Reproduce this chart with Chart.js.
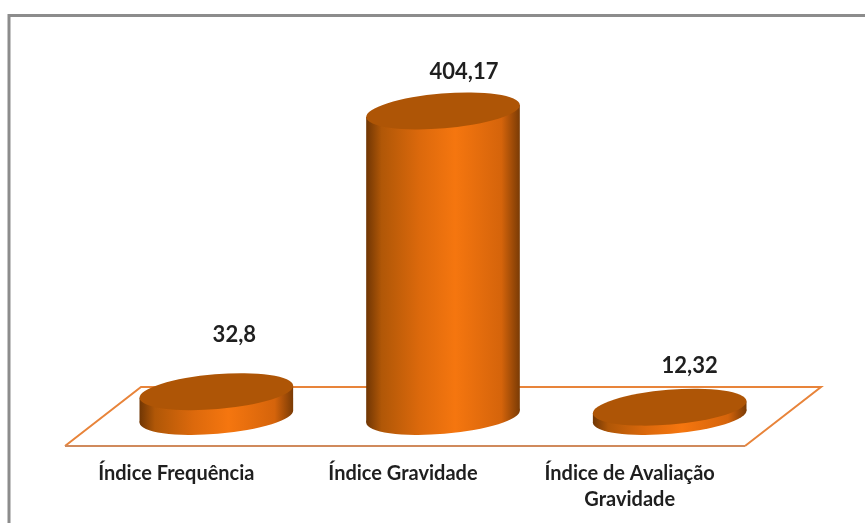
<!DOCTYPE html>
<html>
<head>
<meta charset="utf-8">
<style>
  html, body { margin: 0; padding: 0; background: #fff; }
  canvas { display: block; filter: blur(0.4px); }
</style>
<script src="https://cdn.jsdelivr.net/npm/chart.js@4"></script>
</head>
<body>
<canvas id="chart" width="865" height="523"></canvas>
<script>
const categories = ['Índice Frequência', 'Índice Gravidade', ['Índice de Avaliação', 'Gravidade']];
const values = [32.8, 404.17, 12.32];
const valueLabels = ['32,8', '404,17', '12,32'];

// 3D look: floor depth and how far the cylinders sit back from the front edge
const floorDepthX = 76, floorDepthY = 59;
const tilt = -4.7 * Math.PI / 180;
const labelShift = [[18, -57], [21, -39], [20, -41]];

function sideOffset(a, b) {
    // horizontal and vertical offset of the rightmost point of a tilted ellipse
    const c = Math.cos(tilt), s = Math.sin(tilt);
    const ex = Math.sqrt(a * a * c * c + b * b * s * s);
    return { x: ex, y: (a * a - b * b) * s * c / ex };
}

const cylinders = {
    id: 'cylinders',
    beforeDraw(chart) {
        const { ctx, chartArea: area } = chart;
        // frame, open at the bottom and on the right
        ctx.save();
        ctx.strokeStyle = '#8c8c8c';
        ctx.lineWidth = 3;
        ctx.beginPath();
        ctx.moveTo(9, 523);
        ctx.lineTo(9, 15.5);
        ctx.lineTo(865, 15.5);
        ctx.stroke();
        // floor
        ctx.lineWidth = 2;
        ctx.strokeStyle = '#e8843a';
        ctx.beginPath();
        ctx.moveTo(area.left, area.bottom);
        ctx.lineTo(area.left + floorDepthX, area.bottom - floorDepthY);
        ctx.lineTo(area.right + floorDepthX, area.bottom - floorDepthY);
        ctx.lineTo(area.right, area.bottom);
        ctx.stroke();
        ctx.strokeStyle = '#d08a5c';
        ctx.beginPath();
        ctx.moveTo(area.left, area.bottom);
        ctx.lineTo(area.right, area.bottom);
        ctx.stroke();
        ctx.restore();
    },
    afterDatasetsDraw(chart) {
        const { ctx } = chart;
        const bars = chart.getDatasetMeta(0).data;
        bars.forEach((bar, i) => {
            const cx = bar.x + floorDepthX / 2;
            const top = bar.y - floorDepthY / 2;
            const base = bar.base - floorDepthY / 2;
            const a = bar.width / 2, b = 17.4;
            const side = sideOffset(a, b);

            const grad = ctx.createLinearGradient(cx - side.x, 0, cx + side.x, 0);
            grad.addColorStop(0, '#703604');
            grad.addColorStop(0.1, '#b05707');
            grad.addColorStop(0.35, '#dc690c');
            grad.addColorStop(0.58, '#f5760f');
            grad.addColorStop(0.88, '#d5640b');
            grad.addColorStop(1, '#7a3b05');

            ctx.save();
            ctx.fillStyle = grad;
            ctx.beginPath();
            ctx.ellipse(cx, base, a, b, tilt, 0, Math.PI * 2);
            ctx.fill();
            ctx.beginPath();
            ctx.moveTo(cx - side.x, top - side.y);
            ctx.lineTo(cx + side.x, top + side.y);
            ctx.lineTo(cx + side.x, base + side.y);
            ctx.lineTo(cx - side.x, base - side.y);
            ctx.closePath();
            ctx.fill();
            ctx.fillStyle = '#ae5506';
            ctx.beginPath();
            ctx.ellipse(cx, top, a, b, tilt, 0, Math.PI * 2);
            ctx.fill();

            ctx.fillStyle = '#1f1f1f';
            ctx.font = 'bold 22px Lato';
            ctx.textAlign = 'center';
            ctx.textBaseline = 'middle';
            ctx.fillText(valueLabels[i], cx + labelShift[i][0], top + labelShift[i][1]);
            ctx.restore();
        });
    }
};

new Chart(document.getElementById('chart').getContext('2d'), {
    type: 'bar',
    data: {
        labels: categories,
        datasets: [{
            data: values,
            backgroundColor: 'transparent',
            barPercentage: 0.68,
            categoryPercentage: 1
        }]
    },
    options: {
        responsive: false,
        animation: false,
        layout: { padding: { left: 65, right: 120, top: 68, bottom: 0 } },
        plugins: { legend: { display: false }, tooltip: { enabled: false } },
        scales: {
            x: {
                grid: { display: false },
                border: { display: false },
                ticks: {
                    color: '#1f1f1f',
                    font: { family: 'Lato', weight: 'bold', size: 20, lineHeight: 1.3 },
                    padding: 7,
                    labelOffset: -2,
                    maxRotation: 0,
                    autoSkip: false
                },
                afterFit(scale) { scale.height = 77; }
            },
            y: { display: false, min: 0, max: 500 }
        }
    },
    plugins: [cylinders]
});
</script>
</body>
</html>
